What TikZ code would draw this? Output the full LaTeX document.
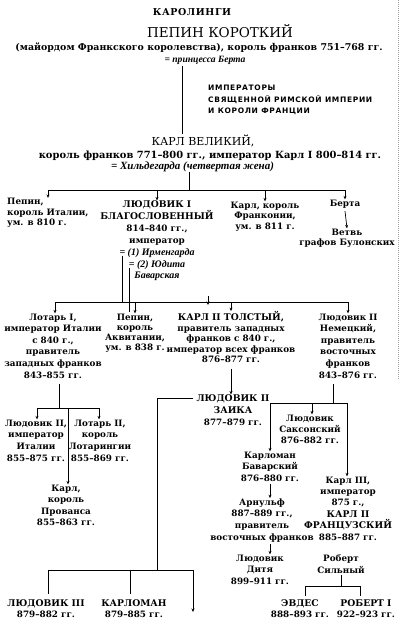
\documentclass[tikz,border=0pt]{standalone}
\usepackage{fontspec}
\setmainfont{DejaVu Serif}
\newfontfamily\notefont[LetterSpace=9]{DejaVu Sans}
\newfontfamily\headfont[LetterSpace=6]{DejaVu Serif}
\newfontfamily\itf{Liberation Serif}
\usetikzlibrary{arrows.meta}
\newcommand\kapz[1]{{\bfseries\fontsize{9.2}{11}\selectfont #1}}
\newcommand\wif[1]{{\itf\bfseries\itshape\fontsize{10}{11}\selectfont #1}}
\newcommand\blkc[2]{\vtop{\baselineskip=#1pt\relax\lineskiplimit=-60pt\relax\let\\\cr\halign{\hfil##\hfil\cr#2\crcr}}}
\newcommand\blkl[2]{\vtop{\baselineskip=#1pt\relax\lineskiplimit=-60pt\relax\let\\\cr\halign{##\hfil\cr#2\crcr}}}
\begin{document}
\begin{tikzpicture}[x=1pt,y=-1pt,
  txt/.style={anchor=base,inner sep=0pt,font=\bfseries\fontsize{8.8}{11}\selectfont},
  one/.style={anchor=base,inner sep=0pt},
  ln/.style={line width=0.7pt},
  arr/.style={line width=0.7pt,-{Stealth[length=3.5pt,width=3pt]}}]
\useasboundingbox[fill=white] (0,0) rectangle (400,629);
\coordinate (edgeT) at (398.5,0);
\coordinate (edgeB) at (398.5,380);
\draw[gray!70,line width=0.6pt,dash pattern=on 1pt off 1pt] (edgeT) -- (edgeB);

% top
\node[one,font=\headfont\bfseries\fontsize{9.5}{11}\selectfont] (title) at (192,15.5) {КАРОЛИНГИ};
\node[one,font=\fontsize{13.5}{15}\selectfont] (pepin) at (220,37.5) {ПЕПИН КОРОТКИЙ};
\node[one,font=\bfseries\fontsize{9.4}{12}\selectfont] (pepinT) at (199,50) {(майордом Франкского королевства), король франков 751–768 гг.};
\node[one,font=\itf\bfseries\itshape\fontsize{9.6}{11}\selectfont] (pepinW) at (205,62) {= принцесса Берта};
\node[anchor=base west,inner sep=0pt,font=\notefont\bfseries\fontsize{7.5}{11.5}\selectfont] (note) at (208,90.7) {\blkl{11.5}{ИМПЕРАТОРЫ\\СВЯЩЕННОЙ РИМСКОЙ ИМПЕРИИ\\И КОРОЛИ ФРАНЦИИ}};

\node[one,font=\fontsize{11}{13}\selectfont] (karl) at (203,145) {КАРЛ ВЕЛИКИЙ,};
\node[one,font=\bfseries\fontsize{9.9}{12}\selectfont] (karlT) at (210,158) {король франков 771–800 гг., император Карл I 800–814 гг.};
\node[one,font=\itf\bfseries\itshape\fontsize{11}{12}\selectfont] (karlW) at (192.5,169) {= Хильдегарда (четвертая жена)};

\coordinate (pk) at (182,66);
\draw[ln] (pk) -- (pk |- karl.north);

% children of Karl
\node[txt,anchor=base west] (pepinI) at (7,204.5) {\blkl{10.5}{Пепин,\\король Италии,\\ум. в 810 г.}};
\node[txt] (ludI) at (157,207.5) {\blkc{11.9}{\kapz{ЛЮДОВИК I}\\\kapz{БЛАГОСЛОВЕННЫЙ}\\814–840 гг.,\\император\\\wif{= (1) Ирменгарда}\\\wif{= (2) Юдита}\\\wif{Баварская}}};
\node[txt] (karlF) at (265,208) {\blkc{10.5}{Карл, король\\Франконии,\\ум. в 811 г.}};
\node[txt] (berta) at (345,206) {Берта};
\node[txt] (vetv) at (347,235) {\blkc{10.5}{Ветвь\\графов Булонских}};

\coordinate (kb) at (189,190);
\coordinate (kbL) at (48,190);
\coordinate (kbR) at (345,190);
\draw[ln] (karlW.south -| kb) -- (kb);
\draw[ln] (kbL) -- (kbR);
\draw[arr] (kbL) -- (kbL |- pepinI.north);
\draw[arr] (kb -| ludI.north) -- (ludI.north);
\draw[arr] (kb -| karlF.north) -- (karlF.north);
\draw[arr] (kbR) -- (berta.north);
\draw[arr] ([yshift=-3pt]berta.south) -- (vetv.north);

% children of Ludovic I
\node[txt] (lotI) at (53,320) {\blkc{11.6}{Лотарь I,\\император Италии\\с 840 г.,\\правитель\\западных франков\\843–855 гг.}};
\node[txt] (pepinA) at (135,320) {\blkc{10}{Пепин,\\король\\Аквитании,\\ум. в 838 г.}};
\node[txt] (karlII) at (231,320.5) {\blkc{10.5}{\kapz{КАРЛ II ТОЛСТЫЙ,}\\правитель западных\\франков с 840 г.,\\император всех франков\\876–877 гг.}};
\node[txt] (ludII) at (348,320) {\blkc{11.6}{Людовик II\\Немецкий,\\правитель\\восточных\\франков\\843–876 гг.}};

\coordinate (m1) at (122,256);
\coordinate (m2) at (129,268);
\coordinate (b2L) at (55,302);
\coordinate (b2R) at (348,302);
\coordinate (tick) at (208,296);
\draw[ln] (m1) -- (m1 |- b2L);
\draw[ln] (m2) -- ([yshift=-10pt]m2 |- b2L);
\draw[ln] (b2L) -- (b2R);
\draw[arr] (tick) -- ++(0,9);
\draw[arr] (b2L) -- (b2L |- lotI.north);
\draw[arr] (b2L -| pepinA.north) -- (pepinA.north);
\draw[arr] (b2L -| karlII.north) -- (karlII.north);
\draw[arr] (b2R) -- (ludII.north);

% Lothair I branch
\node[txt] (ludIt) at (36,426) {\blkc{11.7}{Людовик II,\\император\\Италии\\855–875 гг.}};
\node[txt] (lotII) at (100,426) {\blkc{11.7}{Лотарь II,\\король\\Лотарингии\\855–869 гг.}};
\node[txt] (karlP) at (66,491) {\blkc{11.6}{Карл,\\король\\Прованса\\855–863 гг.}};
\coordinate (lb) at (59,408);
\coordinate (lbL) at (37,408);
\coordinate (lbR) at (99,408);
\coordinate (lbM) at (68,408);
\draw[ln] ([yshift=-6pt]lotI.south -| lb) -- (lb);
\draw[ln] (lbL) -- (lbR);
\draw[arr] (lbL) -- (lbL |- ludIt.north);
\draw[arr] (lbR) -- (lbR |- lotII.north);
\draw[arr] (lbM) -- (lbM |- karlP.north);

% Charles II branch
\node[txt] (ludZ) at (233,401.5) {\blkc{11.8}{\kapz{ЛЮДОВИК II}\\\kapz{ЗАИКА}\\877–879 гг.}};
\draw[arr] ([yshift=-6pt]karlII.south) -- (karlII.south |- ludZ.north);
\coordinate (zc) at (157,398);
\coordinate (bbL) at (48,570);
\coordinate (bbM) at (130,570);
\coordinate (bbR) at (193,570);
\node[txt] (ludIII) at (46,606.5) {\blkc{11}{\kapz{ЛЮДОВИК III}\\879–882 гг.}};
\node[txt] (karlomanB) at (134,606.5) {\blkc{11}{\kapz{КАРЛОМАН}\\879–885 гг.}};
\draw[ln] ([xshift=-3pt]ludZ.west |- zc) -- (zc) -- (zc |- bbL);
\draw[ln] (bbL) -- (bbR);
\draw[ln] (bbL) -- ([yshift=5pt]bbL |- ludIII.north);
\draw[ln] (bbM) -- ([yshift=5pt]bbM |- karlomanB.north);
\draw[arr] (bbR) -- ++(0,42);

% Louis the German branch
\node[txt] (ludS) at (310,421) {\blkc{11.3}{Людовик\\Саксонский\\876–882 гг.}};
\node[txt] (karlomanBav) at (270,458) {\blkc{11.5}{Карломан\\Баварский\\876–880 гг.}};
\node[txt] (karlIII) at (348,483) {\blkc{11.4}{Карл III,\\император\\875 г.,\\\kapz{КАРЛ II}\\\kapz{ФРАНЦУЗСКИЙ}\\885–887 гг.}};
\node[txt] (arnulf) at (262,505) {\blkc{11.7}{Арнульф\\887–889 гг.,\\правитель\\восточных франков}};
\node[txt] (ludD) at (260,561) {\blkc{11.5}{Людовик\\Дитя\\899–911 гг.}};
\coordinate (nb) at (333,403);
\coordinate (nbL) at (270,403);
\coordinate (nbM) at (312,403);
\coordinate (nbR) at (347,403);
\draw[ln] ([yshift=-6pt]ludII.south -| nb) -- (nb);
\draw[ln] (nbL) -- (nbR);
\draw[arr] (nbL) -- (karlomanBav.north);
\draw[arr] (nbM) -- (nbM |- ludS.north);
\draw[arr] (nbR) -- (nbR |- karlIII.north);
\draw[arr] ([yshift=-3pt]karlomanBav.south) -- (karlomanBav.south |- arnulf.north);
\draw[arr] ([yshift=-2pt]arnulf.south -| karlomanBav.south) -- (karlomanBav.south |- ludD.north);

% Robert
\node[txt] (robert) at (341,561) {\blkc{12}{Роберт\\Сильный}};
\node[txt] (evdes) at (300,606.5) {\blkc{11}{\kapz{ЭВДЕС}\\888–893 гг.}};
\node[txt] (robertI) at (366,606.5) {\blkc{11}{\kapz{РОБЕРТ I}\\922–923 гг.}};
\coordinate (rb) at (341,586);
\coordinate (rbL) at (305,586);
\coordinate (rbR) at (360,586);
\draw[ln] ([yshift=-2pt]robert.south -| rb) -- (rb);
\draw[ln] (rbL) -- (rbR);
\draw[ln] (rbL) -- ([yshift=3pt]rbL |- evdes.north);
\draw[ln] (rbR) -- ([yshift=3pt]rbR |- robertI.north);
\end{tikzpicture}
\end{document}
